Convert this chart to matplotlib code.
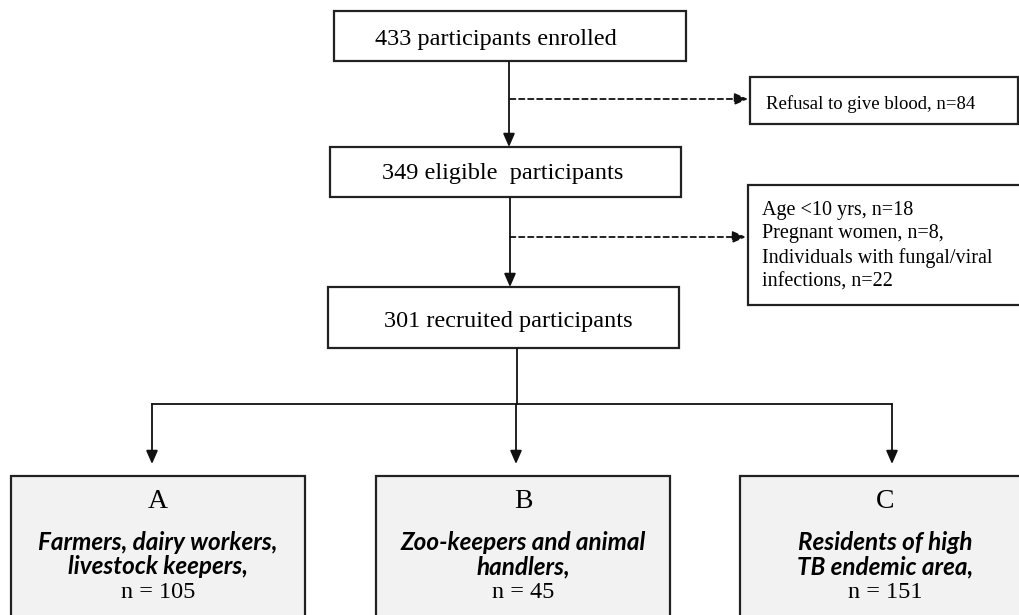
import matplotlib.pyplot as plt
from matplotlib.patches import Rectangle

# flow counts
enrolled = 433
refused = 84
eligible = 349
excluded_labels = ["Age <10 yrs, n=18", "Pregnant women, n=8,", "Individuals with fungal/viral", "infections, n=22"]
recruited = 301
groups = ["A", "B", "C"]
group_desc = [["Farmers, dairy workers,", "livestock keepers,"],
              ["Zoo-keepers and animal", "handlers,"],
              ["Residents of high", "TB endemic area,"]]
group_n = [105, 45, 151]

SERIF = "Liberation Serif"
SANS = "Lato"

fig = plt.figure(figsize=(10.2, 6.15), dpi=100)
ax = fig.add_axes([0, 0, 1, 1])
ax.set_xlim(0, 1020)
ax.set_ylim(615, 0)
ax.axis("off")


def box(x0, y0, x1, y1, fc="white"):
    ax.add_patch(Rectangle((x0, y0), x1 - x0, y1 - y0, fc=fc, ec="#222222", lw=1.6))


def arrow(x0, y0, x1, y1, ls="-"):
    ax.annotate("", xy=(x1, y1), xytext=(x0, y0),
                arrowprops=dict(arrowstyle="-|>,head_length=0.8,head_width=0.35",
                                color="#111111", lw=1.3, linestyle=ls,
                                shrinkA=0, shrinkB=0))


# main column
box(334, 11, 686, 61)
ax.text(496, 40, f"{enrolled} participants enrolled", family=SERIF, fontsize=17.5, ha="center", va="center")
box(330, 147, 681, 197)
ax.text(503, 173, f"{eligible} eligible  participants", family=SERIF, fontsize=17.5, ha="center", va="center")
box(328, 287, 679, 348)
ax.text(508, 321, f"{recruited} recruited participants", family=SERIF, fontsize=17.5, ha="center", va="center")

arrow(509, 62, 509, 147)
arrow(510, 198, 510, 287)

# exclusions
arrow(510, 99, 748, 99, ls=(0, (3, 2)))
box(750, 77, 1018, 124)
ax.text(766, 104, f"Refusal to give blood, n={refused}", family=SERIF, fontsize=13.5, ha="left", va="center")

arrow(510, 237, 746, 237, ls=(0, (3, 2)))
box(748, 185, 1030, 305)
ax.text(762, 246, "\n".join(excluded_labels), family=SERIF, fontsize=14.5, ha="left", va="center",
        linespacing=1.32)

# split to groups
ax.plot([517, 517], [349, 404], color="#111111", lw=1.3)
ax.plot([152, 892], [404, 404], color="#111111", lw=1.3)
centers = [152, 516, 892]
spans = [(11, 305), (376, 670), (740, 1030)]
for cx, (x0, x1), g, desc, n in zip(centers, spans, groups, group_desc, group_n):
    arrow(cx, 404, cx, 464)
    box(x0, 476, x1, 640, fc="#f2f2f2")
    mid = (x0 + x1) / 2 if x1 < 1020 else 885
    ax.text(mid, 501, g, family=SERIF, fontsize=20, ha="center", va="center")
    ax.text(mid, 542, desc[0], family=SANS, fontsize=17.5, style="italic", weight="bold", ha="center", va="center")
    ax.text(mid, 567, desc[1], family=SANS, fontsize=17.5, style="italic", weight="bold", ha="center", va="center")
    ax.text(mid, 592, f"n = {n}", family=SERIF, fontsize=17.5, ha="center", va="center")

fig.savefig("out.png", dpi=100)
